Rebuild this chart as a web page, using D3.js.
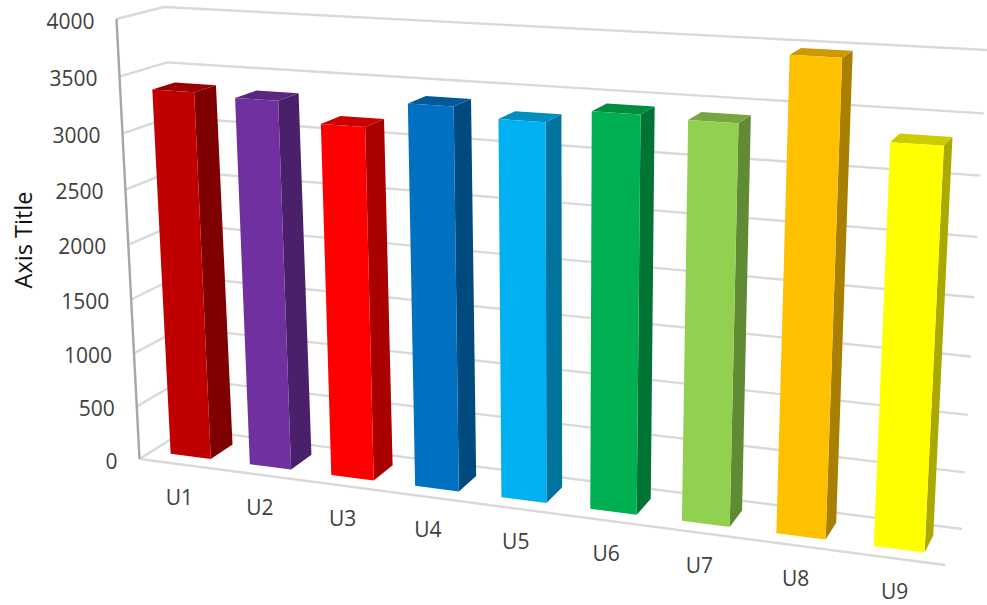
<!DOCTYPE html>
<html>
<head>
<meta charset="utf-8">
<script src="https://cdn.jsdelivr.net/npm/d3@7"></script>
<style>
    html, body { margin: 0; padding: 0; background: #fff; }
    text { font-family: "Open Sans", sans-serif; fill: #404040; }
</style>
</head>
<body>
<div id="svg-container"></div>
<script>
const categories = ['U1', 'U2', 'U3', 'U4', 'U5', 'U6', 'U7', 'U8', 'U9'];
const values = [3365, 3340, 3165, 3390, 3310, 3425, 3405, 3970, 3335];
const barColors = ['#c00000', '#7030a0', '#ff0000', '#0070c0', '#00b0f0', '#00b050', '#92d050', '#ffc000', '#ffff00'];
const tickValues = [0, 500, 1000, 1500, 2000, 2500, 3000, 3500, 4000];

const width = 987;
const height = 605;

// corners of the 3d box on screen: [x, y]
const frontPlane = { bl: [139.5, 459], br: [945, 565], tl: [116.5, 19], tr: [970, 64.5] };
const backPlane = { bl: [187, 429], br: [962, 529], tl: [164, 7], tr: [987, 50] };

// projective map from the unit square onto a quad
const quadMap = ({ bl, br, tl, tr }) => {
    const dx1 = br[0] - tr[0], dx2 = tl[0] - tr[0], sx = bl[0] - br[0] + tr[0] - tl[0];
    const dy1 = br[1] - tr[1], dy2 = tl[1] - tr[1], sy = bl[1] - br[1] + tr[1] - tl[1];
    const det = dx1 * dy2 - dx2 * dy1;
    const g = (sx * dy2 - dx2 * sy) / det;
    const h = (dx1 * sy - sx * dy1) / det;
    const a = br[0] - bl[0] + g * br[0], b = tl[0] - bl[0] + h * tl[0];
    const d = br[1] - bl[1] + g * br[1], e = tl[1] - bl[1] + h * tl[1];
    return (s, t) => {
        const w = g * s + h * t + 1;
        return [(a * s + b * t + bl[0]) / w, (d * s + e * t + bl[1]) / w];
    };
};

const front = quadMap(frontPlane);
const back = quadMap(backPlane);

// s along the categories, t up the value axis, z from the front of the floor to the back wall
const project = (s, t, z) => {
    const f = front(s, t);
    const b = back(s, t);
    return [f[0] + (b[0] - f[0]) * z, f[1] + (b[1] - f[1]) * z];
};

const x = d3.scaleBand().domain(categories).range([0, 1]).paddingInner(0.49).paddingOuter(0.245);
const y = d3.scaleLinear().domain([0, 4000]).range([0, 1]);
const z = d3.scaleLinear().domain([0, 1]).range([0.255, 0.735]);

const svg = d3.select('#svg-container')
    .append('svg')
    .attr('width', width)
    .attr('height', height);

const path = d3.line();

// walls: one bent line per tick, side wall then back wall
const grid = svg.append('g').attr('class', 'grid');
grid.selectAll('path.gridline')
    .data(tickValues)
    .enter()
    .append('path')
    .attr('class', 'gridline')
    .attr('fill', 'none')
    .attr('stroke', '#d9d9d9')
    .attr('stroke-width', 2.4)
    .attr('d', d => path([project(0, y(d), 0), project(0, y(d), 1), project(1, y(d), 1)]));

// floor front edge and the value axis
grid.append('path')
    .attr('fill', 'none')
    .attr('stroke', '#d9d9d9')
    .attr('stroke-width', 2.4)
    .attr('d', path([project(0, 0, 0), project(1, 0, 0)]));
grid.append('path')
    .attr('fill', 'none')
    .attr('stroke', '#a6a6a6')
    .attr('stroke-width', 2.4)
    .attr('d', path([project(0, 0, 0), project(0, 1, 0)]));

// bars: front, side and top faces
const bars = svg.selectAll('g.bar')
    .data(categories.map((name, i) => ({ name, value: values[i], color: barColors[i] })))
    .enter()
    .append('g')
    .attr('class', 'bar');

const corners = d => {
    const s0 = x(d.name), s1 = s0 + x.bandwidth(), t = y(d.value);
    return { s0, s1, t };
};

bars.append('path')
    .attr('fill', d => d3.rgb(d.color).darker(1.16))
    .attr('d', d => {
        const { s1, t } = corners(d);
        return path([project(s1, 0, z(0)), project(s1, 0, z(1)), project(s1, t, z(1)), project(s1, t, z(0))]) + 'Z';
    });
bars.append('path')
    .attr('fill', d => d3.rgb(d.color).darker(0.63))
    .attr('d', d => {
        const { s0, s1, t } = corners(d);
        return path([project(s0, t, z(0)), project(s1, t, z(0)), project(s1, t, z(1)), project(s0, t, z(1))]) + 'Z';
    });
bars.append('path')
    .attr('fill', d => d.color)
    .attr('d', d => {
        const { s0, s1, t } = corners(d);
        return path([project(s0, 0, z(0)), project(s1, 0, z(0)), project(s1, t, z(0)), project(s0, t, z(0))]) + 'Z';
    });

// tick labels sit left of the axis
svg.selectAll('text.tick-label')
    .data(tickValues)
    .enter()
    .append('text')
    .attr('class', 'tick-label')
    .attr('text-anchor', 'end')
    .attr('font-size', 21)
    .attr('x', d => project(0, y(d), 0)[0] - 22)
    .attr('y', d => project(0, y(d), 0)[1] + 9.5)
    .text(d => d);

// category labels follow the floor edge
svg.selectAll('text.category-label')
    .data(categories)
    .enter()
    .append('text')
    .attr('class', 'category-label')
    .attr('text-anchor', 'middle')
    .attr('font-size', 21)
    .attr('x', d => project(x(d) + x.bandwidth() / 2, 0, 0)[0] + 0.5)
    .attr('y', d => project(x(d) + x.bandwidth() / 2, 0, 0)[1] + 40.5)
    .text(d => d);

svg.append('text')
    .attr('class', 'axis-title')
    .attr('text-anchor', 'middle')
    .attr('font-size', 23.5)
    .attr('transform', 'translate(32, 240) rotate(-90)')
    .style('fill', '#111')
    .text('Axis Title');
</script>
</body>
</html>
